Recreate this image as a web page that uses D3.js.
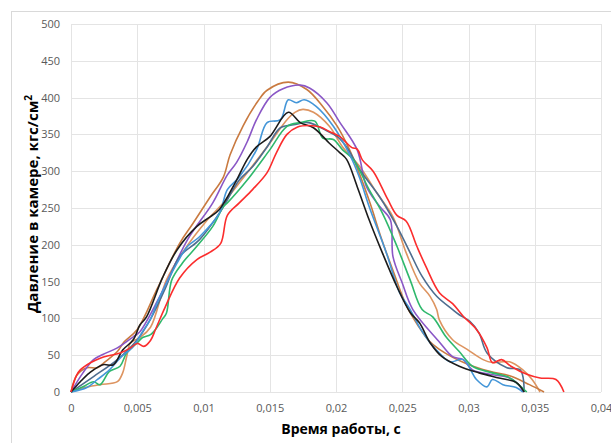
<!DOCTYPE html>
<html lang="ru">
<head>
<meta charset="utf-8">
<script src="https://d3js.org/d3.v7.min.js"></script>
<style>
body { margin: 0; background: #fff; }
.tick text { font: 11px "Open Sans", sans-serif; fill: #595959; }
.title { font-family: "Open Sans", sans-serif; font-weight: bold; fill: #000; }
</style>
</head>
<body>
<div id="chart"></div>
<script>
// time in ms, pressure in kgf/cm2
var tRed = [0,0.4,0.7,1.5,2.2,3.0,3.7,4.5,5.0,5.5,6.0,6.4,7.1,8.2,9.5,10.5,11.3,11.8,12.7,13.7,14.8,15.5,16.3,17.1,18.0,18.8,19.5,20.3,21.2,21.6,22.0,22.8,23.9,24.6,25.3,26.1,26.8,27.8,28.8,29.6,30.6,31.4,31.8,32.5,33.2,34.4,35.4,36.6,37.2];
var pRed = [0,22,30,40,46,50,53,60,66,62,70,86,115,155,180,190,202,240,257,275,298,325,350,360,362,360,354,347,332,330,315,300,262,240,232,198,170,135,120,103,85,60,40,44,35,24,19,17,0];

var tSlate = [0,1.7,3.5,5.0,6.0,7.1,8.2,9.7,11.2,12.7,13.7,14.8,15.8,16.8,17.9,19.3,20.1,20.8,21.8,23.3,24.6,25.6,26.5,27.6,28.8,29.3,30.1,30.8,31.4,32.9,33.9,34.2];
var pSlate = [0,21,44,71,99,140,184,207,243,288,306,333,359,363,366,355,347,333,302,265,225,189,157,130,112,105,96,80,53,33,30,0];

var tGreen = [0,0.9,1.7,2.2,2.9,3.7,4.2,5.0,5.4,6.0,6.5,6.9,7.2,7.6,8.4,9.5,10.7,11.5,11.8,13.3,15.0,16.3,17.3,18.4,19.0,19.8,20.5,21.3,22.5,23.5,24.6,25.6,26.5,27.3,28.3,29.3,30.3,31.6,32.9,33.3,34.4];
var pGreen = [0,7,14,10,28,35,53,67,74,78,88,99,107,152,175,198,225,252,257,288,329,361,366,368,345,343,329,316,275,243,198,152,112,102,75,55,35,27,21,17,0];

var tBlack = [0,0.7,1.4,2.4,3.2,3.9,4.7,5.2,5.7,6.9,8.0,9.5,10.5,11.2,12.5,13.3,14.0,15.0,16.4,17.3,18.3,19.5,20.3,20.8,21.6,22.5,23.5,24.6,25.6,26.3,27.1,28.0,29.3,30.8,32.3,33.6,34.2];
var pBlack = [0,14,26,37,37,57,71,91,102,155,193,225,238,248,288,316,333,347,380,366,359,338,325,316,279,234,189,143,108,94,67,48,35,26,19,13,0];

var tBlue = [0,1.2,2.0,2.9,3.7,4.7,5.4,6.0,6.5,8.0,8.8,9.7,11.2,11.8,12.7,14.0,14.8,15.8,16.4,17.0,17.6,18.5,19.8,21.1,21.8,22.5,23.8,24.8,25.6,26.4,27.1,27.8,28.6,29.6,30.6,31.4,31.8,32.6,33.6,34.1];
var pBlue = [0,6,17,30,46,62,82,99,121,175,198,211,243,275,292,329,366,370,397,393,397,388,361,320,290,252,189,135,112,85,67,53,41,44,17,7,17,10,6,0];

var tPurple = [0,0.9,1.7,2.4,3.5,4.7,5.2,6.7,8.8,10.7,11.8,12.5,13.3,14.0,15.0,16.0,17.3,18.0,19.3,20.3,21.6,22.3,23.3,24.1,24.3,25.0,25.8,27.8,28.8,29.6,30.3,31.6,33.1,33.9,34.1];
var pPurple = [0,26,44,51,60,75,82,130,207,257,295,312,340,370,400,412,417,413,393,366,329,279,252,234,184,148,112,68,48,44,30,24,19,7,0];

var tBrown = [0,0.45,1.2,2.0,2.5,3.5,4.0,5.0,6.5,8.2,9.2,10.5,11.5,12.0,13.0,14.1,14.8,16.4,17.8,19.0,20.1,21.0,21.8,22.6,23.4,24.3,25.3,26.2,27.0,27.8,29.9,31.6,33.1,34.6,35.7];
var pBrown = [0,23,33,33,40,55,68,85,140,202,229,265,292,322,362,395,410,421,411,388,361,330,295,255,210,165,118,90,70,58,38,28,22,10,0];

var tOrange = [0,1.0,2.2,3.5,3.9,4.2,4.5,5.2,6.0,7.2,8.4,10.3,11.5,13.3,15.0,16.3,16.9,17.5,18.3,19.5,20.5,21.8,23.1,24.3,25.3,26.3,27.1,27.6,27.8,28.8,29.9,31.1,31.8,33.1,34.1,34.8,35.4];
var pOrange = [0,6,10,14,26,48,67,74,88,152,189,234,257,298,338,370,380,384,380,361,333,306,270,238,189,148,130,112,98,71,58,44,40,41,30,17,0];

var xTicks = [0,5,10,15,20,25,30,35,40];
var xTickLabels = ["0","0,005","0,01","0,015","0,02","0,025","0,03","0,035","0,04"];
var yTicks = [0,50,100,150,200,250,300,350,400,450,500];

var series = [
  {t: tOrange, p: pOrange, color: "#dd9460"},
  {t: tBrown,  p: pBrown,  color: "#c97a40"},
  {t: tPurple, p: pPurple, color: "#8a57c6"},
  {t: tSlate,  p: pSlate,  color: "#4e6d8f"},
  {t: tGreen,  p: pGreen,  color: "#2fb86c"},
  {t: tBlue,   p: pBlue,   color: "#4496d8"},
  {t: tBlack,  p: pBlack,  color: "#1c1c1c"},
  {t: tRed,    p: pRed,    color: "#fb2d2d"}
];

var width = 611, height = 443;
var svg = d3.select("#chart").append("svg")
  .attr("width", width).attr("height", height);

// chart border
svg.append("rect")
  .attr("x", 11.5).attr("y", 11.5).attr("width", 700).attr("height", 500)
  .attr("fill", "none").attr("stroke", "#d9d9d9");

var x = d3.scaleLinear().domain([0, 40]).range([71, 601]);
var y = d3.scaleLinear().domain([0, 500]).range([392, 24]);

// grid
svg.append("g").selectAll("line").data(yTicks).enter().append("line")
  .attr("x1", x(0)).attr("x2", x(40))
  .attr("y1", function(d) { return Math.round(y(d)) + 0.5; })
  .attr("y2", function(d) { return Math.round(y(d)) + 0.5; })
  .attr("stroke", "#e4e4e4");
svg.append("g").selectAll("line").data(xTicks).enter().append("line")
  .attr("y1", y(0)).attr("y2", y(500))
  .attr("x1", function(d) { return Math.round(x(d)) + 0.5; })
  .attr("x2", function(d) { return Math.round(x(d)) + 0.5; })
  .attr("stroke", "#e4e4e4");

// axes (labels only)
var yAxis = svg.append("g").attr("transform", "translate(" + (x(0) - 2) + ",0)")
  .call(d3.axisLeft(y).tickValues(yTicks).tickSize(0).tickPadding(9));
yAxis.select(".domain").remove();

var xAxis = svg.append("g").attr("transform", "translate(0," + y(0) + ")")
  .call(d3.axisBottom(x).tickValues(xTicks).tickSize(0).tickPadding(12)
    .tickFormat(function(d, i) { return xTickLabels[i]; }));
xAxis.select(".domain").remove();

// lines
var line = d3.line()
  .x(function(d) { return x(d[0]); })
  .y(function(d) { return y(d[1]); })
  .curve(d3.curveCatmullRom.alpha(0.5));

svg.append("g").selectAll("path").data(series).enter().append("path")
  .attr("d", function(s) { return line(s.t.map(function(v, i) { return [v, s.p[i]]; })); })
  .attr("fill", "none")
  .attr("stroke", function(s) { return s.color; })
  .attr("stroke-width", 1.6)
  .attr("stroke-linejoin", "round");

// titles
svg.append("text").attr("class", "title")
  .style("font-size", "14px")
  .attr("x", 341).attr("y", 434).attr("text-anchor", "middle")
  .text("Время работы, с");

var yt = svg.append("text").attr("class", "title")
  .style("font-size", "15px")
  .attr("transform", "translate(38,204) rotate(-90)")
  .attr("text-anchor", "middle");
yt.append("tspan").text("Давление в камере, кгс/см");
yt.append("tspan").attr("dy", -6).style("font-size", "10px").text("2");
</script>
</body>
</html>
